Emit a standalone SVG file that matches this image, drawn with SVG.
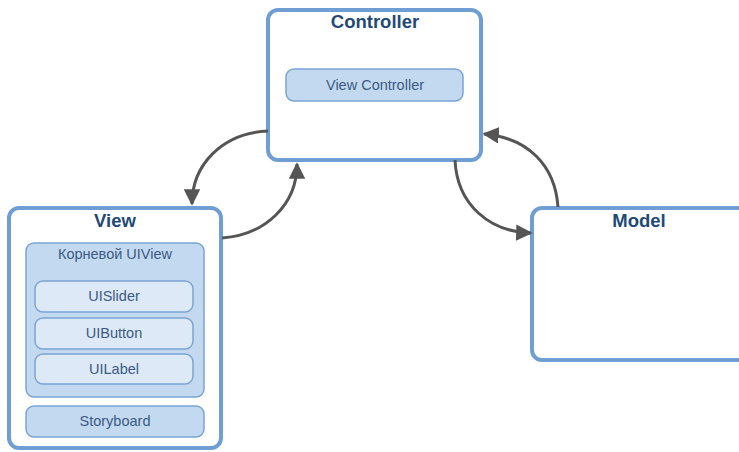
<svg xmlns="http://www.w3.org/2000/svg" width="739" height="452" viewBox="0 0 739 452">
<defs>
<style>
.box{fill:#fff;stroke:#6f9ed4;stroke-width:4}
.cont{fill:#c3d9ef;stroke:#7aa4d6;stroke-width:1.5}
.item{fill:#dde9f6;stroke:#7aa4d6;stroke-width:1.5}
.title{font-family:"Liberation Sans",Arial,sans-serif;font-weight:bold;font-size:18.5px;fill:#1f4a78;text-anchor:middle}
.lbl{font-family:"Liberation Sans",Arial,sans-serif;font-size:14.5px;fill:#3b5b85;text-anchor:middle}
.conn{fill:none;stroke:#555;stroke-width:3}
</style>
<marker id="ah" viewBox="0 0 10 10" refX="9" refY="5" markerWidth="5.5" markerHeight="5.5" orient="auto" markerUnits="strokeWidth">
<path d="M0,0 L10,5 L0,10 z" fill="#555"/>
</marker>
</defs>
<g id="controller">
<rect class="box" x="268" y="10" width="213" height="150" rx="10"/>
<text class="title" x="375" y="28">Controller</text>
<g id="view-controller">
<rect class="cont" x="286" y="69" width="177" height="32" rx="8"/>
<text class="lbl" x="375" y="90">View Controller</text>
</g>
</g>
<g id="view">
<rect class="box" x="9" y="208" width="212" height="240" rx="10"/>
<text class="title" x="115" y="227">View</text>
<g id="root-uiview">
<rect class="cont" x="26" y="243" width="178" height="154" rx="8"/>
<text class="lbl" x="115" y="259">Корневой UIView</text>
</g>
<g id="uislider">
<rect class="item" x="35" y="281" width="158" height="31" rx="8"/>
<text class="lbl" x="114" y="301">UISlider</text>
</g>
<g id="uibutton">
<rect class="item" x="35" y="318" width="158" height="31" rx="8"/>
<text class="lbl" x="114" y="338">UIButton</text>
</g>
<g id="uilabel">
<rect class="item" x="35" y="354" width="158" height="30" rx="8"/>
<text class="lbl" x="114" y="374">UILabel</text>
</g>
<g id="storyboard">
<rect class="cont" x="26" y="406" width="178" height="31" rx="8"/>
<text class="lbl" x="115" y="426">Storyboard</text>
</g>
</g>
<g id="model">
<rect class="box" x="532" y="208" width="220" height="152" rx="10"/>
<text class="title" x="639" y="227">Model</text>
</g>
<g id="connectors">
<path class="conn" marker-end="url(#ah)" d="M268,131 C222,133 192,165 192,204"/>
<path class="conn" marker-end="url(#ah)" d="M222,238 C265,235 297,205 297,164"/>
<path class="conn" marker-end="url(#ah)" d="M455,160 C457,205 490,232 531,233"/>
<path class="conn" marker-end="url(#ah)" d="M558,207 C555,165 528,138 484,134"/>
</g>
</svg>
